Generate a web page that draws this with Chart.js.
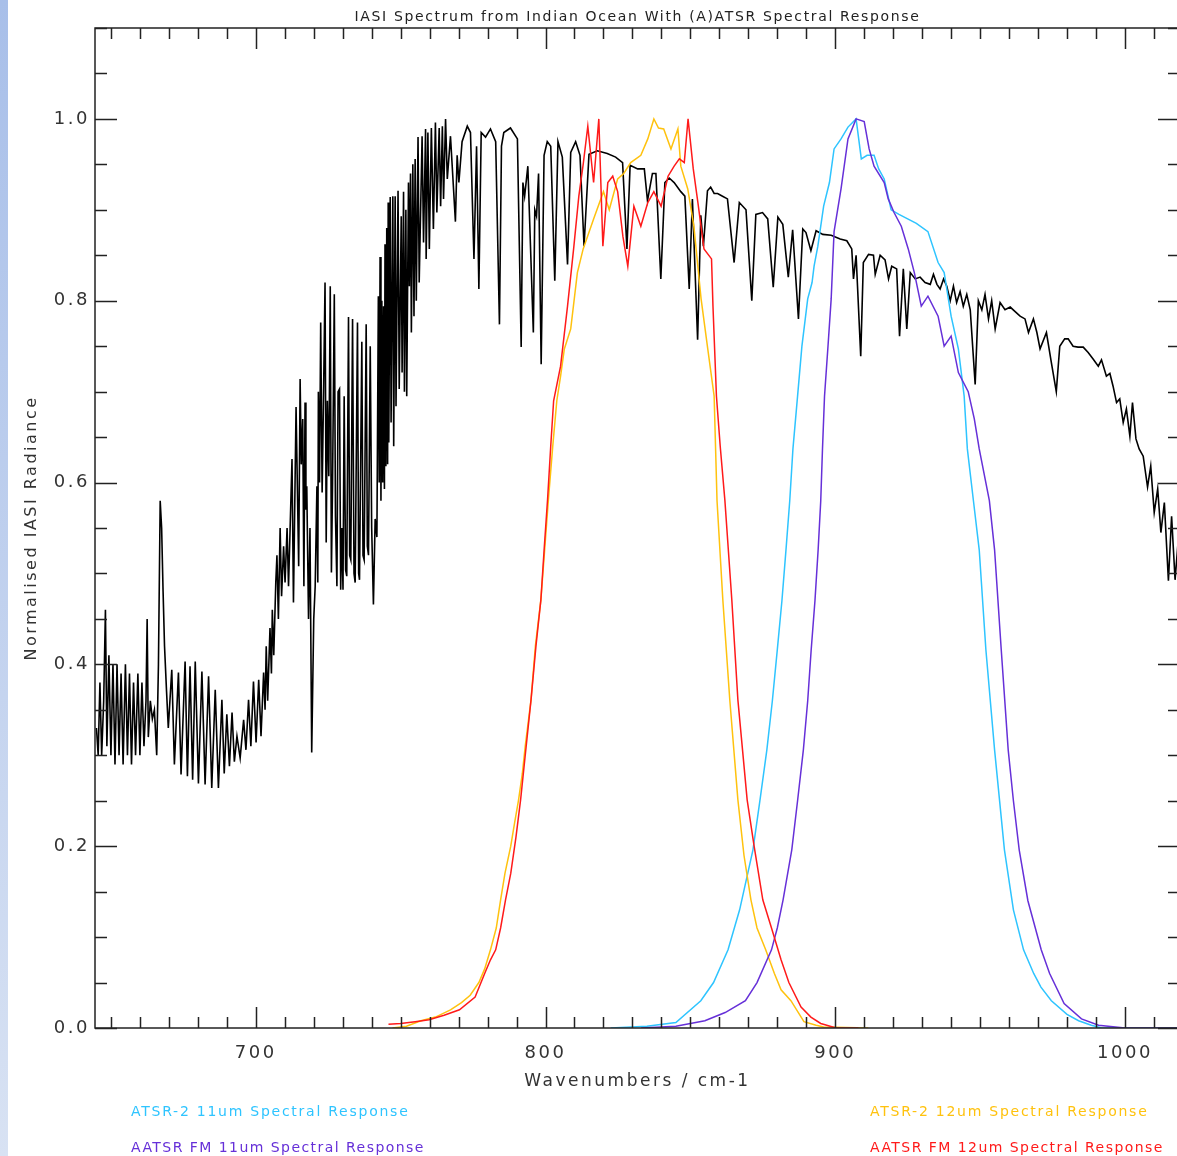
<!DOCTYPE html>
<html>
<head>
<meta charset="utf-8">
<title>IASI Spectrum with (A)ATSR Spectral Response</title>
<script src="https://cdn.jsdelivr.net/npm/chart.js@4.4.1/dist/chart.umd.min.js"></script>
<style>
    html, body {
        margin: 0;
        padding: 0;
        background: #ffffff;
        overflow: hidden;
        font-family: 'DejaVu Sans', sans-serif;
    }
    #wrap {
        position: relative;
        width: 1182px;
        height: 1156px;
    }
    #edge {
        position: absolute;
        left: 0;
        top: 0;
        width: 8px;
        height: 1156px;
        background: linear-gradient(#a8bfe9, #d8e2f3);
    }
    #plot-title {
        position: absolute;
        left: 95px;
        width: 1085px;
        top: 7px;
        line-height: 18px;
        font-size: 14px;
        letter-spacing: 1.65px;
        color: #222;
        text-align: center;
    }
    .key {
        position: absolute;
        font-size: 14px;
        line-height: 18px;
        letter-spacing: 1.75px;
        white-space: nowrap;
    }
    .key.fm {
        letter-spacing: 1.45px;
    }
</style>
</head>
<body>
<div id="wrap">
    <canvas id="spectrumChart" width="1182" height="1156"></canvas>
    <div id="edge"></div>
    <div id="plot-title">IASI Spectrum from Indian Ocean With (A)ATSR Spectral Response</div>
    <div class="key" style="left:131px; top:1102px; color:#2ec4ff;">ATSR-2 11um Spectral Response</div>
    <div class="key fm" style="left:131px; top:1138px; color:#6630d8;">AATSR FM 11um Spectral Response</div>
    <div class="key" style="left:870px; top:1102px; color:#ffc20e;">ATSR-2 12um Spectral Response</div>
    <div class="key fm" style="left:870px; top:1138px; color:#ff1a1a;">AATSR FM 12um Spectral Response</div>
</div>

<script>
// IASI spectrum: [wavenumber cm-1, normalised radiance]
// peaks and troughs of the line structure
const iasiSpectrum = [
    // 645 - 670, CO2 band edge
    [645.0, 0.33], [645.6, 0.30], [646.2, 0.38], [646.8, 0.30], [647.5, 0.36],
    [648.1, 0.46], [648.6, 0.31], [649.3, 0.41], [650.0, 0.30], [650.7, 0.40],
    [651.4, 0.29], [652.1, 0.40], [652.8, 0.30], [653.5, 0.39], [654.2, 0.29],
    [655.0, 0.40], [655.7, 0.30], [656.4, 0.39], [657.1, 0.29], [657.8, 0.38],
    [658.5, 0.30], [659.3, 0.39], [660.0, 0.30], [660.7, 0.38], [661.4, 0.31],
    [662.1, 0.36], [662.5, 0.45], [662.9, 0.32], [663.6, 0.36], [664.3, 0.34],
    [665.0, 0.35], [665.8, 0.30], [666.4, 0.40], [667.0, 0.58], [667.5, 0.55],
    [668.0, 0.48], [668.5, 0.42], [669.2, 0.37], [669.8, 0.33],
    // 670 - 703
    [671.0, 0.394], [671.9, 0.290], [673.3, 0.391], [674.2, 0.279], [675.6, 0.403],
    [676.4, 0.277], [677.3, 0.398], [678.2, 0.273], [679.1, 0.403], [680.2, 0.269],
    [681.4, 0.392], [682.5, 0.268], [683.7, 0.387], [684.8, 0.264], [686.0, 0.372],
    [687.1, 0.264], [688.3, 0.361], [689.1, 0.280], [690.0, 0.345], [690.9, 0.288],
    [691.8, 0.347], [692.6, 0.293], [693.5, 0.321], [694.6, 0.297], [695.8, 0.339],
    [696.6, 0.306], [697.5, 0.361], [698.3, 0.310], [699.2, 0.381], [700.1, 0.314],
    [701.0, 0.383], [701.8, 0.321], [702.7, 0.391], [703.2, 0.350],
    // 703 - 715
    [703.6, 0.42], [704.1, 0.36], [704.9, 0.44], [705.4, 0.39], [705.7, 0.46],
    [706.2, 0.41], [706.9, 0.49], [707.3, 0.52], [707.8, 0.45], [708.4, 0.55],
    [708.9, 0.475], [709.6, 0.53], [710.1, 0.49], [710.8, 0.55], [711.3, 0.486],
    [712.5, 0.626], [713.0, 0.468], [713.9, 0.683], [714.8, 0.508],
    // 715 - 742
    [715.3, 0.714], [715.7, 0.62], [716.2, 0.67], [716.6, 0.486], [717.0, 0.688],
    [717.3, 0.57], [717.6, 0.596], [718.2, 0.45], [718.7, 0.55], [719.3, 0.303],
    [720.0, 0.45], [720.5, 0.486], [721.1, 0.596], [721.4, 0.49], [721.6, 0.70],
    [722.0, 0.60], [722.4, 0.776], [722.9, 0.589], [723.4, 0.70], [723.9, 0.82],
    [724.3, 0.534], [724.7, 0.69], [725.2, 0.607], [725.7, 0.816], [726.1, 0.501],
    [726.5, 0.60], [727.1, 0.807], [727.5, 0.563], [728.0, 0.486], [728.4, 0.70],
    [728.9, 0.703], [729.3, 0.482], [729.7, 0.55], [730.1, 0.482], [730.5, 0.695],
    [731.0, 0.504], [731.4, 0.497], [732.0, 0.782], [732.4, 0.52], [732.8, 0.515],
    [733.4, 0.78], [733.9, 0.50], [734.3, 0.49], [735.1, 0.776], [735.5, 0.50],
    [735.8, 0.493], [736.6, 0.755], [737.0, 0.52], [737.4, 0.515], [738.1, 0.774],
    [738.5, 0.53], [738.9, 0.52], [739.5, 0.75], [740.0, 0.55], [740.6, 0.466],
    [741.2, 0.56], [741.8, 0.54],
    // 742 - 768
    [742.3, 0.805], [742.6, 0.60], [742.9, 0.848], [743.2, 0.58], [743.5, 0.80],
    [743.8, 0.60], [744.1, 0.794], [744.4, 0.593], [744.6, 0.862], [744.9, 0.618],
    [745.2, 0.88], [745.5, 0.62], [745.7, 0.908], [745.9, 0.644], [746.4, 0.914],
    [746.7, 0.666], [747.3, 0.915], [747.6, 0.64], [748.1, 0.915], [748.4, 0.684],
    [749.1, 0.921], [749.5, 0.703], [750.2, 0.893], [750.5, 0.721], [751.0, 0.92],
    [751.3, 0.70], [751.8, 0.90], [752.1, 0.695], [752.7, 0.93], [753.0, 0.816],
    [753.4, 0.94], [753.7, 0.765], [754.2, 0.95], [754.6, 0.783], [755.0, 0.956],
    [755.4, 0.80], [756.0, 0.98], [756.4, 0.82], [757.4, 0.981], [757.9, 0.864],
    [758.6, 0.989], [758.8, 0.846], [759.4, 0.985], [759.9, 0.857], [760.6, 0.99],
    [761.3, 0.879], [762.0, 0.996], [762.5, 0.897], [763.3, 0.99], [763.8, 0.904],
    [764.4, 0.992], [764.8, 0.912], [765.5, 1.0], [766.1, 0.934], [767.2, 0.981],
    [767.8, 0.948],
    // 768 - 800
    [768.9, 0.887], [769.5, 0.96], [770.1, 0.93], [771.2, 0.975], [773.0, 0.992],
    [774.1, 0.985], [775.3, 0.846], [776.2, 0.97], [777.0, 0.813], [777.8, 0.985],
    [779.3, 0.98], [781.0, 0.989], [782.8, 0.975], [784.1, 0.774], [784.8, 0.97],
    [785.6, 0.985], [787.9, 0.99], [790.3, 0.978], [791.6, 0.749], [792.2, 0.93],
    [792.8, 0.915], [793.9, 0.948], [795.8, 0.765], [796.3, 0.90], [796.9, 0.893],
    [797.6, 0.94], [798.5, 0.73], [799.5, 0.96], [800.6, 0.975],
    // 800 - 900, window region
    [801.8, 0.97], [803.2, 0.822], [804.3, 0.975], [805.8, 0.958], [807.6, 0.84],
    [808.7, 0.963], [810.4, 0.975], [811.9, 0.96], [813.3, 0.86], [815.0, 0.961],
    [817.9, 0.965], [821.3, 0.962], [824.2, 0.958], [826.6, 0.952], [828.1, 0.857],
    [829.2, 0.949], [831.8, 0.945], [834.1, 0.945], [835.2, 0.91], [836.9, 0.94],
    [838.1, 0.94], [839.8, 0.824], [841.2, 0.93], [842.7, 0.935], [844.4, 0.93],
    [846.7, 0.92], [848.1, 0.915], [849.6, 0.813], [850.7, 0.912], [852.5, 0.757],
    [853.6, 0.894], [854.5, 0.86], [855.9, 0.921], [857.0, 0.925], [858.2, 0.918],
    [859.4, 0.918], [861.1, 0.915], [862.8, 0.912], [865.1, 0.842], [866.9, 0.908],
    [869.2, 0.90], [871.2, 0.80], [872.6, 0.895], [874.9, 0.897], [876.7, 0.89],
    [878.6, 0.815], [880.2, 0.892], [881.9, 0.884], [883.8, 0.826], [885.3, 0.878],
    [887.3, 0.78], [888.8, 0.879], [889.9, 0.875], [891.6, 0.855], [893.4, 0.877],
    [895.7, 0.873], [898.6, 0.872],
    // 900 - 971
    [901.7, 0.868], [904.0, 0.866], [905.7, 0.857], [906.3, 0.824], [907.2, 0.85],
    [908.8, 0.739], [909.7, 0.842], [911.5, 0.851], [913.2, 0.85], [913.8, 0.829],
    [915.5, 0.85], [917.2, 0.845], [918.4, 0.824], [919.5, 0.838], [921.2, 0.835],
    [922.2, 0.761], [923.5, 0.835], [924.7, 0.769], [925.9, 0.831], [927.6, 0.824],
    [929.3, 0.826], [931.0, 0.82], [932.8, 0.818], [933.9, 0.829], [935.1, 0.818],
    [936.2, 0.813], [937.4, 0.824], [938.5, 0.816], [939.7, 0.80], [940.8, 0.816],
    [941.9, 0.798], [943.1, 0.81], [944.2, 0.794], [945.4, 0.807], [946.6, 0.79],
    [948.3, 0.708], [949.4, 0.80], [950.6, 0.79], [951.7, 0.807], [952.9, 0.78],
    [954.0, 0.80], [955.2, 0.769], [956.9, 0.798], [958.6, 0.79], [960.4, 0.793],
    [962.1, 0.788], [963.8, 0.783], [965.5, 0.78], [966.7, 0.765], [968.4, 0.78],
    [969.6, 0.765], [970.7, 0.747],
    // 971 - 1019, falling edge
    [972.9, 0.765], [974.6, 0.732], [976.3, 0.70], [977.5, 0.75], [979.2, 0.758],
    [980.4, 0.758], [982.1, 0.75], [983.8, 0.749], [985.6, 0.749], [987.3, 0.743],
    [989.0, 0.736], [990.8, 0.728], [991.9, 0.735], [993.6, 0.717], [994.8, 0.72],
    [995.9, 0.706], [997.1, 0.688], [998.2, 0.692], [999.4, 0.666], [1000.5, 0.681],
    [1001.7, 0.651], [1002.6, 0.688], [1003.8, 0.648], [1004.9, 0.637], [1006.3, 0.629],
    [1007.8, 0.595], [1008.9, 0.618], [1010.1, 0.567], [1011.3, 0.593], [1012.4, 0.545],
    [1013.6, 0.578], [1015.0, 0.492], [1016.1, 0.563], [1017.3, 0.493], [1018.4, 0.537],
    [1019.5, 0.50]
];

// ATSR-2 11um filter response
const atsr2_11Wn = [
    822.5, 835, 845, 853.6, 858, 863, 867, 871.6, 874, 876.4,
    878.3, 880, 881.6, 883, 884.3, 885.4, 887, 888.5, 890.5, 892,
    892.7, 894, 896, 898, 899.6, 902, 904.4, 907.2, 909, 911,
    913.4, 915, 916.9, 919.3, 922, 925, 928, 932, 935.5, 937.6,
    940, 942.5, 944.5, 945.6, 947.7, 949.7, 952, 955, 958.4, 961.5,
    965, 968.5, 971, 974.6, 980, 984, 988.4, 992, 1000, 1019
];
const atsr2_11Resp = [
    0, 0.002, 0.006, 0.03, 0.05, 0.086, 0.13, 0.196, 0.25, 0.306,
    0.36, 0.416, 0.47, 0.526, 0.58, 0.637, 0.695, 0.75, 0.802, 0.82,
    0.838, 0.86, 0.904, 0.93, 0.967, 0.978, 0.991, 1.0, 0.956, 0.96,
    0.96, 0.945, 0.934, 0.90, 0.895, 0.89, 0.885, 0.876, 0.842, 0.831,
    0.783, 0.747, 0.695, 0.637, 0.58, 0.526, 0.416, 0.306, 0.196, 0.13,
    0.086, 0.06, 0.045, 0.03, 0.015, 0.008, 0.003, 0, 0, 0
];

// AATSR flight model 11um filter response
const aatsr11Wn = [
    833, 845, 855, 862, 869, 873, 878, 880, 882, 885,
    887, 889, 890.5, 891.7, 893, 894.1, 895, 895.6, 896.3, 897.5,
    898.6, 899.6, 902, 904.4, 907.2, 910, 911.7, 913.4, 916.9, 918.3,
    920.3, 922.8, 925.2, 927.3, 929.7, 932, 935.5, 937.6, 940, 942.5,
    945.9, 948, 949.7, 953.2, 955, 957.3, 959.7, 961.5, 963.5, 966.5,
    971.1, 974, 979, 985, 990.9, 1000, 1019
];
const aatsr11Resp = [
    0, 0.002, 0.008, 0.017, 0.03, 0.05, 0.086, 0.11, 0.141, 0.196,
    0.25, 0.306, 0.36, 0.416, 0.47, 0.526, 0.58, 0.637, 0.695, 0.75,
    0.802, 0.876, 0.923, 0.978, 1.0, 0.997, 0.967, 0.948, 0.93, 0.912,
    0.897, 0.882, 0.857, 0.831, 0.794, 0.805, 0.783, 0.75, 0.761, 0.721,
    0.70, 0.67, 0.637, 0.58, 0.526, 0.416, 0.306, 0.25, 0.196, 0.14,
    0.086, 0.06, 0.027, 0.01, 0.003, 0, 0
];

// ATSR-2 12um filter response
const atsr2_12Wn = [
    747.2, 752, 757, 762, 767.2, 771, 774, 777, 779, 781,
    783, 784.5, 786, 788, 789.3, 790.7, 792, 793, 795, 796.5,
    798.4, 799.8, 801, 802.5, 803.9, 805.2, 806.5, 808.7, 811, 813,
    816.6, 820, 822, 824.9, 827, 829.4, 832.9, 835.3, 837.4, 839,
    840.8, 843.3, 845.7, 846.7, 849.1, 851.2, 853.7, 856, 858.2, 859.2,
    861.2, 863.6, 866.4, 868.5, 870.9, 873, 876, 879, 881.3, 884.7,
    889.2, 893.4, 896, 911.4
];
const atsr2_12Resp = [
    0, 0.002, 0.008, 0.012, 0.02, 0.028, 0.036, 0.05, 0.065, 0.086,
    0.11, 0.141, 0.17, 0.2, 0.225, 0.251, 0.28, 0.31, 0.361, 0.42,
    0.471, 0.53, 0.581, 0.64, 0.69, 0.717, 0.747, 0.769, 0.831, 0.857,
    0.89, 0.92, 0.90, 0.934, 0.94, 0.952, 0.96, 0.978, 1.0, 0.99,
    0.989, 0.967, 0.989, 0.948, 0.923, 0.882, 0.802, 0.747, 0.695, 0.58,
    0.471, 0.361, 0.251, 0.19, 0.141, 0.11, 0.086, 0.06, 0.042, 0.03,
    0.007, 0.003, 0.001, 0
];

// AATSR flight model 12um filter response
const aatsr12Wn = [
    745.8, 750, 755, 759.8, 765, 770.3, 775.7, 779, 781, 782.8,
    784.5, 786.2, 788, 789.8, 791.4, 793, 795, 796.7, 798.4, 799.6,
    800.7, 801.8, 802.8, 805.2, 807.6, 809.7, 811.5, 813, 814.6, 816.6,
    818.4, 819.8, 821.5, 823.2, 824.9, 826.7, 828.4, 830.5, 832.9, 835.3,
    837.4, 839.9, 842.3, 844.4, 846.2, 847.9, 849.2, 851, 852.6, 854.7,
    857.3, 857.8, 859, 860.3, 861.9, 864.3, 866.4, 869.6, 872, 875,
    878, 881.3, 884, 888.2, 891.6, 895, 900.3, 908
];
const aatsr12Resp = [
    0.004, 0.005, 0.007, 0.009, 0.014, 0.02, 0.034, 0.06, 0.075, 0.086,
    0.11, 0.141, 0.17, 0.21, 0.251, 0.30, 0.361, 0.42, 0.471, 0.53,
    0.581, 0.64, 0.69, 0.728, 0.794, 0.857, 0.915, 0.95, 0.992, 0.93,
    1.0, 0.86, 0.93, 0.937, 0.92, 0.871, 0.838, 0.904, 0.882, 0.908,
    0.92, 0.904, 0.937, 0.948, 0.956, 0.952, 1.0, 0.945, 0.908, 0.857,
    0.846, 0.794, 0.695, 0.64, 0.581, 0.471, 0.361, 0.251, 0.2, 0.141,
    0.11, 0.075, 0.05, 0.023, 0.012, 0.005, 0, 0
];

// axis ranges and tick spacing
const X_MIN = 644.5;
const X_MAX = 1019;
const Y_MIN = 0;
const Y_MAX = 1.1;
const X_MAJOR = 100;
const X_MINOR = 10;
const Y_MAJOR = 0.2;
const Y_MINOR = 0.05;

const FONT = "'DejaVu Sans', sans-serif";

// pair up wavenumbers and values for the line datasets
function toPoints(xs, ys) {
    return xs.map((x, i) => ({ x: x, y: ys[i] }));
}

// IDL-style box: inward ticks on all four sides
const boxTicks = {
    id: 'boxTicks',
    beforeDraw(chart) {
        chart.ctx.letterSpacing = '2.5px';
    },
    afterDraw(chart) {
        const ctx = chart.ctx;
        const a = chart.chartArea;
        const x = chart.scales.x;
        const y = chart.scales.y;
        ctx.save();
        ctx.strokeStyle = '#222';
        ctx.lineWidth = 1.5;
        ctx.strokeRect(a.left, a.top, a.right - a.left, a.bottom - a.top);
        ctx.beginPath();

        const first = Math.ceil(X_MIN / X_MINOR);
        const last = Math.floor(X_MAX / X_MINOR);
        for (let k = first; k <= last; k++) {
            const v = k * X_MINOR;
            const px = Math.round(x.getPixelForValue(v)) + 0.5;
            const len = (v % X_MAJOR === 0) ? 21 : 11;
            ctx.moveTo(px, a.bottom);
            ctx.lineTo(px, a.bottom - len);
            ctx.moveTo(px, a.top);
            ctx.lineTo(px, a.top + len);
        }

        const ySteps = Math.round((Y_MAX - Y_MIN) / Y_MINOR);
        const perMajor = Math.round(Y_MAJOR / Y_MINOR);
        for (let k = 0; k <= ySteps; k++) {
            const v = Y_MIN + k * Y_MINOR;
            const py = Math.round(y.getPixelForValue(v)) + 0.5;
            const len = (k % perMajor === 0) ? 22 : 12;
            ctx.moveTo(a.left, py);
            ctx.lineTo(a.left + len, py);
            ctx.moveTo(a.right, py);
            ctx.lineTo(a.right - len, py);
        }
        ctx.stroke();
        ctx.restore();
    }
};

function initChart() {
    const canvas = document.getElementById('spectrumChart');
    const ctx = canvas.getContext('2d');

    new Chart(ctx, {
        type: 'line',
        data: {
            datasets: [
                {
                    label: 'AATSR FM 12um Spectral Response',
                    data: toPoints(aatsr12Wn, aatsr12Resp),
                    borderColor: '#ff1a1a'
                },
                {
                    label: 'AATSR FM 11um Spectral Response',
                    data: toPoints(aatsr11Wn, aatsr11Resp),
                    borderColor: '#6630d8'
                },
                {
                    label: 'ATSR-2 12um Spectral Response',
                    data: toPoints(atsr2_12Wn, atsr2_12Resp),
                    borderColor: '#ffc20e'
                },
                {
                    label: 'ATSR-2 11um Spectral Response',
                    data: toPoints(atsr2_11Wn, atsr2_11Resp),
                    borderColor: '#2ec4ff'
                },
                {
                    label: 'IASI normalised radiance',
                    data: iasiSpectrum.map(p => ({ x: p[0], y: p[1] })),
                    borderColor: '#000000',
                    borderWidth: 1.6
                }
            ]
        },
        options: {
            responsive: false,
            animation: false,
            layout: { padding: { top: 28, right: 2, bottom: 0, left: 0 } },
            elements: {
                point: { radius: 0 },
                line: { borderWidth: 1.5, tension: 0, fill: false }
            },
            plugins: {
                legend: { display: false },
                tooltip: { enabled: false },
                title: { display: false }
            },
            scales: {
                x: {
                    type: 'linear',
                    min: X_MIN,
                    max: X_MAX,
                    grid: { display: false, drawTicks: false },
                    border: { display: false },
                    ticks: {
                        stepSize: X_MAJOR,
                        includeBounds: false,
                        autoSkip: false,
                        maxRotation: 0,
                        padding: 15,
                        color: '#333',
                        font: { family: FONT, size: 18 },
                        callback: v => String(v)
                    },
                    title: {
                        display: true,
                        text: 'Wavenumbers / cm-1',
                        color: '#333',
                        font: { family: FONT, size: 17 },
                        padding: { top: 0, bottom: 64 }
                    },
                    afterFit: s => { s.height = 128; }
                },
                y: {
                    type: 'linear',
                    min: Y_MIN,
                    max: Y_MAX,
                    grid: { display: false, drawTicks: false },
                    border: { display: false },
                    ticks: {
                        stepSize: Y_MAJOR,
                        includeBounds: false,
                        padding: 5,
                        color: '#333',
                        font: { family: FONT, size: 18 },
                        callback: v => v.toFixed(1)
                    },
                    title: {
                        display: true,
                        text: 'Normalised IASI Radiance',
                        color: '#333',
                        font: { family: FONT, size: 16 },
                        padding: { top: 22, bottom: 0 }
                    },
                    afterFit: s => { s.width = 95; }
                }
            }
        },
        plugins: [boxTicks]
    });
}

document.addEventListener('DOMContentLoaded', initChart);
</script>
</body>
</html>
